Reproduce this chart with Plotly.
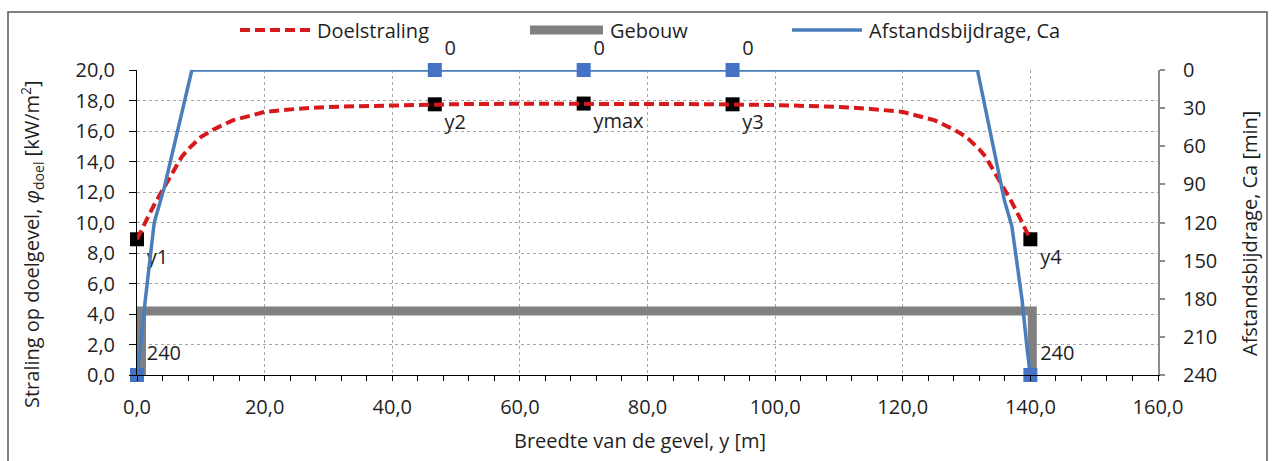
import plotly.graph_objects as go

# Width of the facade, y [m], and target radiation phi_doel [kW/m2]
straling_y = [0, 1, 2, 3, 4, 5, 6, 7, 8, 10, 12, 15, 20, 25, 30, 40, 50, 60, 70,
              80, 90, 100, 110, 115, 120, 125, 128, 130, 132, 133, 134, 135, 136, 137, 138, 139, 140]
straling_phi = [8.9, 9.8, 10.6, 11.4, 12.1, 12.8, 13.6, 14.3, 14.8, 15.6, 16.1, 16.7, 17.25, 17.45, 17.58, 17.7, 17.76, 17.79, 17.8,
                17.79, 17.76, 17.7, 17.58, 17.45, 17.25, 16.7, 16.1, 15.6, 14.8, 14.3, 13.6, 12.8, 12.1, 11.4, 10.6, 9.8, 8.9]

# Building outline (Gebouw)
gebouw_y = [0.7, 0.7, 140.3, 140.3]
gebouw_h = [0.0, 4.2, 4.2, 0.0]

# Distance contribution Ca [min]
ca_y = [0, 0.5, 1.3, 2.7, 4.3, 8.6, 131.7, 135.9, 137.1, 138.7, 139.5, 140]
ca_min = [240, 220, 181, 120, 92, 0, 0, 102, 123, 181, 220, 240]

# Marked points on the radiation curve
punt_y = [0, 46.67, 70, 93.33, 140]
punt_phi = [8.9, 17.75, 17.8, 17.75, 8.9]
punt_namen = ["y1", "y2", "ymax", "y3", "y4"]

# Marked points on the Ca curve
ca_punt_y = [0, 46.67, 70, 93.33, 140]
ca_punt_min = [240, 0, 0, 0, 240]

FONT = "Open Sans"
TXT = "#1f1f1f"
FS = 20

# plot-area pixel box used to place legend/title decorations
L, R, T, B = 137, 1158, 70, 375


def px_x(p):
    return (p - L) / (R - L)


def px_y(p):
    return (B - p) / (B - T)


fig = go.Figure()

fig.add_trace(go.Scatter(x=gebouw_y, y=gebouw_h, mode="lines", name="Gebouw",
                         line=dict(color="#808080", width=9), showlegend=False))
fig.add_trace(go.Scatter(x=punt_y, y=punt_phi, mode="markers+text", text=punt_namen,
                         textposition="bottom right", cliponaxis=False,
                         textfont=dict(family=FONT, size=FS, color=TXT),
                         marker=dict(symbol="square", size=14, color="black"),
                         showlegend=False))
fig.add_trace(go.Scatter(x=straling_y, y=straling_phi, mode="lines", name="Doelstraling",
                         line=dict(color="#D7191C", width=4, dash="10px,5px"), showlegend=False))
fig.add_trace(go.Scatter(x=ca_y, y=ca_min, mode="lines", name="Afstandsbijdrage, Ca",
                         yaxis="y2", line=dict(color="#4A7EBB", width=3.5), showlegend=False))
fig.add_trace(go.Scatter(x=ca_punt_y, y=ca_punt_min, mode="markers+text",
                         text=[str(v) for v in ca_punt_min], textposition="top right",
                         cliponaxis=False, yaxis="y2",
                         textfont=dict(family=FONT, size=FS, color=TXT),
                         marker=dict(symbol="square", size=14, color="#4472C4"),
                         showlegend=False))

grid = dict(showgrid=True, gridcolor="#A6A6A6", gridwidth=1, griddash="dot")
tickfont = dict(family=FONT, size=FS, color=TXT)

fig.update_layout(
    width=1272, height=461,
    margin=dict(l=L, r=1272 - R, t=T, b=461 - B, autoexpand=False),
    paper_bgcolor="white", plot_bgcolor="white",
    separators=",.",
    font=dict(family=FONT, size=FS, color=TXT),
    showlegend=False,
    xaxis=dict(range=[0, 160], dtick=20, tickformat=".1f", showline=True, linecolor="black",
               linewidth=1, ticks="outside", ticklen=5, tickcolor="black",
               minor=dict(dtick=4, ticks="outside", ticklen=5, tickcolor="black", showgrid=False),
               tickfont=tickfont, ticklabelstandoff=9, zeroline=False, automargin=False, **grid),
    yaxis=dict(range=[0, 20], dtick=2, tickformat=".1f", showline=True, linecolor="black",
               linewidth=1, ticks="outside", ticklen=7, tickcolor="black",
               tickfont=tickfont, ticklabelstandoff=10, zeroline=False, automargin=False, **grid),
    yaxis2=dict(range=[240, 0], dtick=30, overlaying="y", side="right", showline=True,
                linecolor="#8C8C8C", linewidth=2, ticks="outside", ticklen=5, tickcolor="#8C8C8C",
                tickwidth=2, tickfont=tickfont, ticklabelstandoff=14, showgrid=False,
                zeroline=False, automargin=False),
)

# Axis titles
fig.add_annotation(text="Breedte van de gevel, y [m]", xref="paper", yref="paper",
                   x=px_x(640), y=px_y(440), showarrow=False, xanchor="center", yanchor="middle",
                   font=dict(family=FONT, size=FS, color=TXT))
fig.add_annotation(text="Straling op doelgevel, <i>φ</i><sub>doel</sub> [kW/m<sup>2</sup>]",
                   xref="paper", yref="paper", x=px_x(32), y=px_y(244), textangle=-90,
                   showarrow=False, xanchor="center", yanchor="middle",
                   font=dict(family=FONT, size=FS, color=TXT))
fig.add_annotation(text="Afstandsbijdrage, Ca [min]", xref="paper", yref="paper",
                   x=px_x(1249), y=px_y(234), textangle=-90, showarrow=False,
                   xanchor="center", yanchor="middle", font=dict(family=FONT, size=FS, color=TXT))

# Legend row
legend_y = px_y(30)
legend_items = [
    ("Doelstraling", 240, 310, dict(color="#D7191C", width=4, dash="10px,5px")),
    ("Gebouw", 530, 603, dict(color="#808080", width=9)),
    ("Afstandsbijdrage, Ca", 792, 862, dict(color="#4A7EBB", width=3.5)),
]
for name, x0, x1, ln in legend_items:
    fig.add_shape(type="line", xref="paper", yref="paper", x0=px_x(x0), x1=px_x(x1),
                  y0=legend_y, y1=legend_y, line=ln)
    fig.add_annotation(text=name, xref="paper", yref="paper", x=px_x(x1 + 5), y=legend_y,
                       showarrow=False, xanchor="left", yanchor="middle",
                       font=dict(family=FONT, size=FS, color=TXT))

# Chart frame
fig.add_shape(type="rect", xref="paper", yref="paper", x0=px_x(8), x1=px_x(1267),
              y0=px_y(480), y1=px_y(12), line=dict(color="#595959", width=1.5), layer="below")

fig.write_html("out.html")
